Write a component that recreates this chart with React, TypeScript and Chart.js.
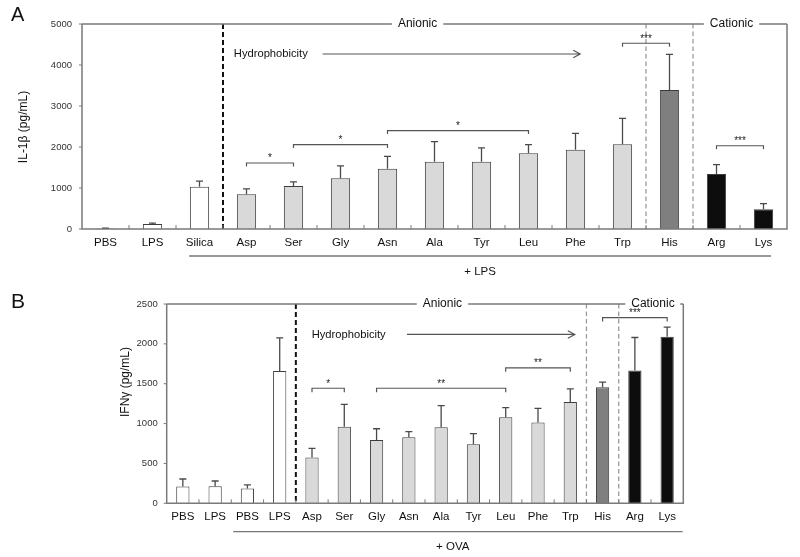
import { useEffect, useRef } from 'react';
import { Chart, registerables } from 'chart.js';

Chart.register(...registerables);

// ---------- Data ----------
const categoriesA = ['PBS', 'LPS', 'Silica', 'Asp', 'Ser', 'Gly', 'Asn', 'Ala', 'Tyr', 'Leu', 'Phe', 'Trp', 'His', 'Arg', 'Lys'];
const il1bMeans = [10, 120, 1030, 850, 1050, 1240, 1470, 1640, 1640, 1850, 1930, 2070, 3390, 1340, 480];
const il1bErrors = [8, 25, 140, 130, 100, 300, 300, 490, 340, 210, 400, 630, 870, 230, 140];
const groupsA = ['control', 'control', 'control', 'anionic', 'anionic', 'anionic', 'anionic', 'anionic', 'anionic', 'anionic', 'anionic', 'anionic', 'histidine', 'cationic', 'cationic'];
const yTicksA = [0, 1000, 2000, 3000, 4000, 5000];

const categoriesB = ['PBS', 'LPS', 'PBS', 'LPS', 'Asp', 'Ser', 'Gly', 'Asn', 'Ala', 'Tyr', 'Leu', 'Phe', 'Trp', 'His', 'Arg', 'Lys'];
const ifngMeans = [210, 215, 185, 1660, 575, 960, 795, 830, 955, 740, 1080, 1015, 1270, 1455, 1665, 2090];
const ifngErrors = [95, 65, 45, 415, 115, 280, 140, 70, 270, 135, 120, 175, 165, 65, 415, 120];
const groupsB = ['control', 'control', 'control', 'control', 'anionic', 'anionic', 'anionic', 'anionic', 'anionic', 'anionic', 'anionic', 'anionic', 'anionic', 'histidine', 'cationic', 'cationic'];
const yTicksB = [0, 500, 1000, 1500, 2000, 2500];

type Bracket = { from: number; to: number; level: number; label: string };
const bracketsA: Bracket[] = [
  { from: 3, to: 4, level: 1610, label: '*' },
  { from: 4, to: 6, level: 2060, label: '*' },
  { from: 6, to: 9, level: 2400, label: '*' },
  { from: 11, to: 12, level: 4530, label: '***' },
  { from: 13, to: 14, level: 2030, label: '***' },
];
const bracketsB: Bracket[] = [
  { from: 4, to: 5, level: 1443, label: '*' },
  { from: 6, to: 10, level: 1443, label: '**' },
  { from: 10, to: 12, level: 1700, label: '**' },
  { from: 13, to: 15, level: 2330, label: '***' },
];

// ---------- Styles ----------
const FONT = '"Liberation Sans", Arial, Helvetica, sans-serif';
const groupColors: Record<string, string> = {
  control: '#ffffff',
  anionic: '#d9d9d9',
  histidine: '#7f7f7f',
  cationic: '#0d0d0d',
};
const AXIS = '#7a7a7a';

type PanelCfg = {
  height: number; padTop: number; padRight: number; yWidth: number; xHeight: number;
  yMax: number; yTickPad: number;
  categories: string[]; means: number[]; errors: number[]; groups: string[]; yTicks: number[];
  brackets: Bracket[]; bracketTick: number;
  letter: string; letterY: number; letterSize: number;
  yTitle: string; yTitleX: number; yTitleY: number;
  blackDash: number; grayDashes: number[];
  anionicAt: number; cationicAt: number;
  hydroTextAt: number; arrowFrom: number; arrowTo: number; hydroLevel: number;
  groupLineFrom: number; groupLineTo: number; groupLineDy: number;
  groupLabel: string; groupLabelAt: number; groupLabelDy: number;
};

const panelA: PanelCfg = {
  height: 280, padTop: 24, padRight: 13, yWidth: 82, xHeight: 51,
  yMax: 5000, yTickPad: 10,
  categories: categoriesA, means: il1bMeans, errors: il1bErrors, groups: groupsA, yTicks: yTicksA,
  brackets: bracketsA, bracketTick: 3.5,
  letter: 'A', letterY: 15, letterSize: 20,
  yTitle: 'IL-1β (pg/mL)', yTitleX: 24, yTitleY: 127,
  blackDash: 2.5, grayDashes: [11.5, 12.5],
  anionicAt: 6.64, cationicAt: 13.32,
  hydroTextAt: 2.73, arrowFrom: 4.62, arrowTo: 10.1, hydroLevel: 4268,
  groupLineFrom: 1.78, groupLineTo: 14.16, groupLineDy: 27,
  groupLabel: '+ LPS', groupLabelAt: 7.97, groupLabelDy: 43,
};

const panelB: PanelCfg = {
  height: 277, padTop: 24, padRight: 116.7, yWidth: 166.7, xHeight: 53.7,
  yMax: 2500, yTickPad: 9,
  categories: categoriesB, means: ifngMeans, errors: ifngErrors, groups: groupsB, yTicks: yTicksB,
  brackets: bracketsB, bracketTick: 4,
  letter: 'B', letterY: 22, letterSize: 21,
  yTitle: 'IFNγ (pg/mL)', yTitleX: 126, yTitleY: 102,
  blackDash: 3.5, grayDashes: [12.5, 13.5],
  anionicAt: 8.04, cationicAt: 14.56,
  hydroTextAt: 3.99, arrowFrom: 6.94, arrowTo: 12.14, hydroLevel: 2118,
  groupLineFrom: 1.56, groupLineTo: 15.48, groupLineDy: 28.4,
  groupLabel: '+ OVA', groupLabelAt: 8.36, groupLabelDy: 43.4,
};

function makePlugin(cfg: PanelCfg) {
  const pxOf = (chart: any) => {
    const x = chart.scales.x;
    const p0 = x.getPixelForValue(0);
    const p1 = x.getPixelForValue(1);
    return (f: number) => p0 + f * (p1 - p0);
  };
  return {
    id: 'panelAnnotations',
    beforeDatasetsDraw(chart: any) {
      const ctx = chart.ctx as CanvasRenderingContext2D;
      const { top, bottom } = chart.chartArea;
      const px = pxOf(chart);
      ctx.save();
      ctx.strokeStyle = '#111';
      ctx.lineWidth = 2;
      ctx.setLineDash([5, 3]);
      ctx.beginPath();
      ctx.moveTo(px(cfg.blackDash), top);
      ctx.lineTo(px(cfg.blackDash), bottom);
      ctx.stroke();
      ctx.strokeStyle = '#9a9a9a';
      ctx.lineWidth = 1.3;
      ctx.setLineDash([4.5, 3]);
      cfg.grayDashes.forEach((f) => {
        ctx.beginPath();
        ctx.moveTo(px(f), top);
        ctx.lineTo(px(f), bottom);
        ctx.stroke();
      });
      ctx.restore();
    },
    afterDatasetsDraw(chart: any) {
      const ctx = chart.ctx as CanvasRenderingContext2D;
      const y = chart.scales.y;
      const { left, right, top, bottom } = chart.chartArea;
      const px = pxOf(chart);
      ctx.save();

      // error bars
      const meta = chart.getDatasetMeta(0);
      ctx.strokeStyle = '#4a4a4a';
      ctx.lineWidth = 1.3;
      meta.data.forEach((el: any, i: number) => {
        const yt = y.getPixelForValue(cfg.means[i] + cfg.errors[i]);
        ctx.beginPath();
        ctx.moveTo(el.x, el.y);
        ctx.lineTo(el.x, yt);
        ctx.moveTo(el.x - 3.5, yt);
        ctx.lineTo(el.x + 3.5, yt);
        ctx.stroke();
      });

      // axes frame
      ctx.strokeStyle = AXIS;
      ctx.lineWidth = 1.5;
      ctx.beginPath();
      ctx.moveTo(left, top);
      ctx.lineTo(left, bottom);
      ctx.lineTo(right, bottom);
      ctx.lineTo(right, top);
      ctx.stroke();

      ctx.lineWidth = 1;
      cfg.yTicks.forEach((v) => {
        const yy = y.getPixelForValue(v);
        ctx.beginPath();
        ctx.moveTo(left - 3, yy);
        ctx.lineTo(left, yy);
        ctx.stroke();
      });
      for (let i = 0; i < cfg.categories.length - 1; i++) {
        const xx = px(i + 0.5);
        ctx.beginPath();
        ctx.moveTo(xx, bottom - 4);
        ctx.lineTo(xx, bottom);
        ctx.stroke();
      }

      // top line with Anionic / Cationic labels
      ctx.font = `12px ${FONT}`;
      ctx.textBaseline = 'middle';
      ctx.textAlign = 'center';
      ctx.fillStyle = '#111';
      const aX = px(cfg.anionicAt);
      const cX = px(cfg.cationicAt);
      const aW = ctx.measureText('Anionic').width / 2 + 6;
      const cW = ctx.measureText('Cationic').width / 2 + 6;
      ctx.lineWidth = 1.5;
      ctx.strokeStyle = AXIS;
      ctx.beginPath();
      ctx.moveTo(left, top);
      ctx.lineTo(aX - aW, top);
      ctx.moveTo(aX + aW, top);
      ctx.lineTo(cX - cW, top);
      ctx.moveTo(Math.min(cX + cW, right - 3), top);
      ctx.lineTo(right, top);
      ctx.stroke();
      ctx.fillText('Anionic', aX, top);
      ctx.fillText('Cationic', cX, top);

      // Hydrophobicity arrow
      const hy = y.getPixelForValue(cfg.hydroLevel);
      ctx.font = `11.2px ${FONT}`;
      ctx.textAlign = 'left';
      ctx.fillText('Hydrophobicity', px(cfg.hydroTextAt), hy);
      const ax1 = px(cfg.arrowFrom);
      const ax2 = px(cfg.arrowTo);
      ctx.strokeStyle = '#555';
      ctx.lineWidth = 1.2;
      ctx.beginPath();
      ctx.moveTo(ax1, hy);
      ctx.lineTo(ax2, hy);
      ctx.moveTo(ax2 - 7, hy - 3.8);
      ctx.lineTo(ax2, hy);
      ctx.lineTo(ax2 - 7, hy + 3.8);
      ctx.stroke();

      // significance brackets
      ctx.strokeStyle = '#555';
      ctx.lineWidth = 1.2;
      ctx.fillStyle = '#222';
      ctx.font = `10px ${FONT}`;
      ctx.textAlign = 'center';
      ctx.textBaseline = 'alphabetic';
      cfg.brackets.forEach((b) => {
        const x1 = px(b.from);
        const x2 = px(b.to);
        const by = y.getPixelForValue(b.level);
        ctx.beginPath();
        ctx.moveTo(x1, by + cfg.bracketTick);
        ctx.lineTo(x1, by);
        ctx.lineTo(x2, by);
        ctx.lineTo(x2, by + cfg.bracketTick);
        ctx.stroke();
        ctx.fillText(b.label, (x1 + x2) / 2, by - 1.5);
      });

      // group line and label below axis
      ctx.strokeStyle = '#777';
      ctx.lineWidth = 1.3;
      ctx.beginPath();
      ctx.moveTo(px(cfg.groupLineFrom), bottom + cfg.groupLineDy);
      ctx.lineTo(px(cfg.groupLineTo), bottom + cfg.groupLineDy);
      ctx.stroke();
      ctx.font = `11.5px ${FONT}`;
      ctx.textBaseline = 'middle';
      ctx.fillStyle = '#111';
      ctx.fillText(cfg.groupLabel, px(cfg.groupLabelAt), bottom + cfg.groupLabelDy);

      // y title
      ctx.save();
      ctx.translate(cfg.yTitleX, cfg.yTitleY);
      ctx.rotate(-Math.PI / 2);
      ctx.font = `12px ${FONT}`;
      ctx.textAlign = 'center';
      ctx.textBaseline = 'middle';
      ctx.fillText(cfg.yTitle, 0, 0);
      ctx.restore();

      // panel letter
      ctx.font = `${cfg.letterSize}px ${FONT}`;
      ctx.textAlign = 'left';
      ctx.textBaseline = 'middle';
      ctx.fillStyle = '#111';
      ctx.fillText(cfg.letter, 11, cfg.letterY);

      ctx.restore();
    },
  };
}

function Panel({ cfg, top }: { cfg: PanelCfg; top: number }) {
  const ref = useRef<HTMLCanvasElement | null>(null);
  useEffect(() => {
    if (!ref.current) return;
    const chart = new Chart(ref.current, {
      type: 'bar',
      data: {
        labels: cfg.categories,
        datasets: [
          {
            data: cfg.means,
            backgroundColor: cfg.groups.map((g) => groupColors[g]),
            borderColor: '#3d3d3d',
            borderWidth: 1,
            barPercentage: 0.41,
            categoryPercentage: 1,
          },
        ],
      },
      options: {
        responsive: false,
        animation: false,
        events: [],
        layout: { padding: { left: 0, top: cfg.padTop, right: cfg.padRight, bottom: 0 } },
        plugins: { legend: { display: false }, tooltip: { enabled: false } },
        scales: {
          x: {
            type: 'category',
            offset: true,
            grid: { display: false, drawTicks: false },
            border: { display: false },
            ticks: {
              font: { family: FONT, size: 11.5 },
              color: '#111',
              padding: 7,
              maxRotation: 0,
              autoSkip: false,
            },
            afterFit: (s: any) => {
              s.height = cfg.xHeight;
            },
          },
          y: {
            min: 0,
            max: cfg.yMax,
            grid: { display: false, drawTicks: false },
            border: { display: false },
            ticks: {
              font: { family: FONT, size: 9.5 },
              color: '#333',
              padding: cfg.yTickPad,
              callback: (v: any) => String(v),
            },
            afterBuildTicks: (s: any) => {
              s.ticks = cfg.yTicks.map((v) => ({ value: v }));
            },
            afterFit: (s: any) => {
              s.width = cfg.yWidth;
            },
          },
        },
      },
      plugins: [makePlugin(cfg)],
    } as any);
    return () => chart.destroy();
  }, [cfg]);
  return (
    <canvas
      ref={ref}
      width={800}
      height={cfg.height}
      style={{ position: 'absolute', left: 0, top, width: 800, height: cfg.height }}
    />
  );
}

export default function App() {
  return (
    <div style={{ position: 'absolute', left: 0, top: 0, width: 800, height: 557, background: '#fff', overflow: 'hidden' }}>
      <Panel cfg={panelA} top={0} />
      <Panel cfg={panelB} top={280} />
    </div>
  );
}
